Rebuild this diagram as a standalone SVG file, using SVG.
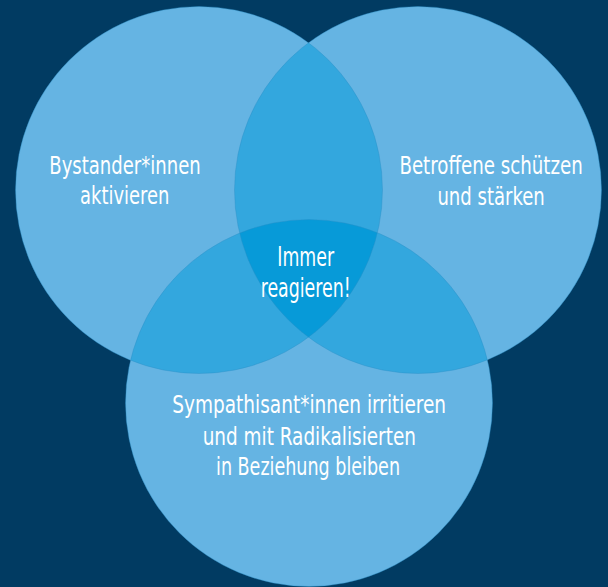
<svg xmlns="http://www.w3.org/2000/svg" width="608" height="587" viewBox="0 0 608 587">
  <style>
    .circle { fill: #65b4e3; }
    .pair { fill: #33a7de; }
    .triple { fill: #079ad8; }
    .rim { fill: none; stroke: #2a8ec4; stroke-width: 0.7; stroke-opacity: 0.55; }
    .label { font-family: "DejaVu Sans Condensed", "Liberation Sans Narrow", "Liberation Sans", sans-serif; font-size: 20.4px; fill: #ffffff; text-anchor: middle; }
    .center { font-size: 21.6px; }
  </style>
  <defs>
    <clipPath id="clipA"><circle cx="199" cy="190" r="183.5"/></clipPath>
    <clipPath id="clipB"><circle cx="418" cy="190" r="183.5"/></clipPath>
    <clipPath id="clipC"><circle cx="309" cy="403" r="183.5"/></clipPath>
  </defs>
  <rect x="0" y="0" width="608" height="587" fill="#013b62"/>

  <g id="bystander">
    <circle class="circle" cx="199" cy="190" r="183.5"/>
  </g>
  <g id="betroffene">
    <circle class="circle" cx="418" cy="190" r="183.5"/>
  </g>
  <g id="sympathisanten">
    <circle class="circle" cx="309" cy="403" r="183.5"/>
  </g>

  <g id="overlaps">
    <circle class="pair" cx="199" cy="190" r="183.5" clip-path="url(#clipB)"/>
    <circle class="pair" cx="199" cy="190" r="183.5" clip-path="url(#clipC)"/>
    <circle class="pair" cx="418" cy="190" r="183.5" clip-path="url(#clipC)"/>
  </g>

  <g id="immer">
    <g clip-path="url(#clipB)">
      <circle class="triple" cx="199" cy="190" r="183.5" clip-path="url(#clipC)"/>
    </g>
  </g>

  <g id="rims">
    <circle class="rim" cx="199" cy="190" r="183.5"/>
    <circle class="rim" cx="418" cy="190" r="183.5"/>
    <circle class="rim" cx="309" cy="403" r="183.5"/>
  </g>

  <g id="bystander-label">
    <text class="label" transform="translate(125 173.7) scale(1 1.2)" textLength="151.4" lengthAdjust="spacingAndGlyphs">Bystander*innen</text>
    <text class="label" transform="translate(124.7 204.3) scale(1 1.2)" textLength="89.3" lengthAdjust="spacingAndGlyphs">aktivieren</text>
  </g>
  <g id="betroffene-label">
    <text class="label" transform="translate(491.1 173.7) scale(1 1.2)" textLength="183.4" lengthAdjust="spacingAndGlyphs">Betroffene schützen</text>
    <text class="label" transform="translate(491.1 204.5) scale(1 1.2)" textLength="107.4" lengthAdjust="spacingAndGlyphs">und stärken</text>
  </g>
  <g id="immer-label">
    <text class="label center" transform="translate(305.7 265.7) scale(1 1.2)" textLength="56.7" lengthAdjust="spacingAndGlyphs">Immer</text>
    <text class="label center" transform="translate(305.7 296.7) scale(1 1.2)" textLength="90" lengthAdjust="spacingAndGlyphs">reagieren!</text>
  </g>
  <g id="sympathisanten-label">
    <text class="label" transform="translate(309.2 413.3) scale(1 1.2)" textLength="273.7" lengthAdjust="spacingAndGlyphs">Sympathisant*innen irritieren</text>
    <text class="label" transform="translate(309.3 445) scale(1 1.2)" textLength="213.3" lengthAdjust="spacingAndGlyphs">und mit Radikalisierten</text>
    <text class="label" transform="translate(308 475) scale(1 1.2)" textLength="184" lengthAdjust="spacingAndGlyphs">in Beziehung bleiben</text>
  </g>
</svg>
